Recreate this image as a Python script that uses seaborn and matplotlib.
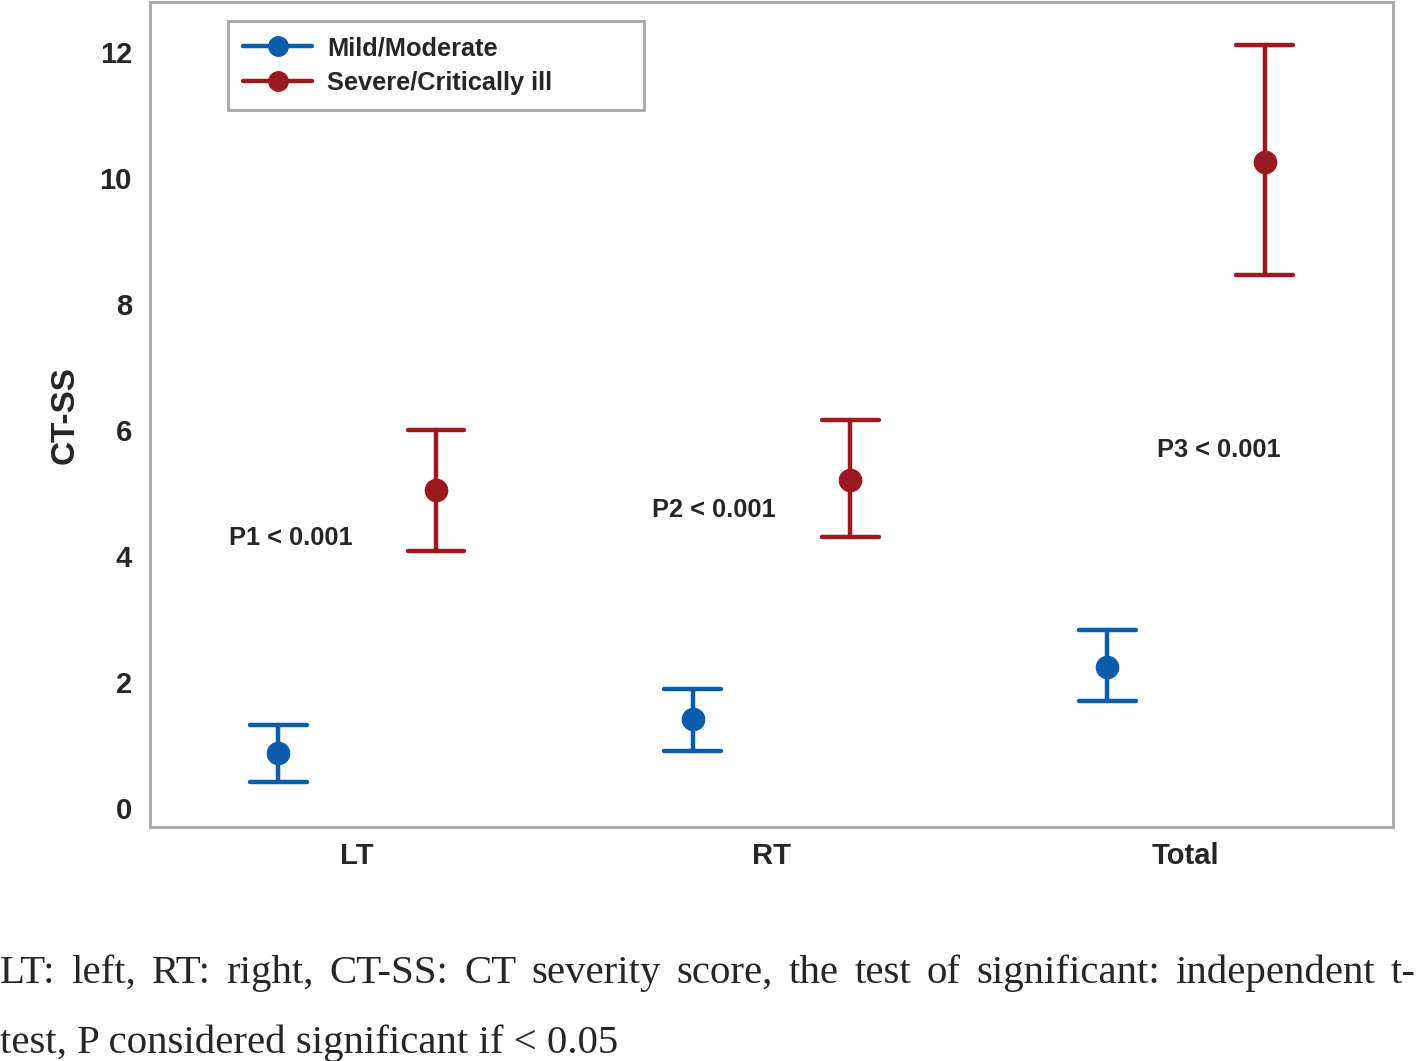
import numpy as np
import pandas as pd
import matplotlib
matplotlib.use("Agg")
import matplotlib.pyplot as plt
from matplotlib.lines import Line2D
import seaborn as sns

regions = ["LT", "RT", "Total"]
groups = ["Mild/Moderate", "Severe/Critically ill"]

mild_mean = [0.87, 1.41, 2.24]
mild_low = [0.41, 0.90, 1.70]
mild_high = [1.32, 1.89, 2.83]

severe_mean = [5.05, 5.21, 10.25]
severe_low = [4.08, 4.30, 8.46]
severe_high = [6.00, 6.16, 12.11]

p_labels = ["P1 < 0.001", "P2 < 0.001", "P3 < 0.001"]
p_x = [-0.16, 0.86, 2.08]
p_y = [4.29, 4.73, 5.68]

caption_1 = "LT: left, RT: right, CT-SS: CT severity score, the test of significant: independent t-"
caption_2 = "test, P considered significant if < 0.05"

blue = "#0b5cab"
red = "#9c1a1f"
frame_grey = "#a6a6a6"

# each point gets its lower end, mean and upper end as three rows;
# median of the three = mean, full percentile interval = the CI bar
rows = []
for grp, lo, mid, hi in [(groups[0], mild_low, mild_mean, mild_high),
                         (groups[1], severe_low, severe_mean, severe_high)]:
    for i, reg in enumerate(regions):
        for v in (lo[i], mid[i], hi[i]):
            rows.append({"Region": reg, "Group": grp, "CT-SS": v})
df = pd.DataFrame(rows)

sns.set_style("white")
plt.rcParams["font.family"] = ["Liberation Sans", "DejaVu Sans"]

fig = plt.figure(figsize=(14.18, 10.61), dpi=100)
ax = fig.add_axes([0.1058, 0.2205, 0.8766, 0.7775])

sns.pointplot(
    data=df, x="Region", y="CT-SS", hue="Group",
    order=regions, hue_order=groups,
    palette=[blue, red],
    estimator="median", errorbar=("pi", 100),
    dodge=0.38, linestyle="none", capsize=0.137,
    markers="o", markersize=15,
    err_kws={"linewidth": 3.2},
    legend=False, ax=ax,
)

for lbl, x, y in zip(p_labels, p_x, p_y):
    ax.text(x, y, lbl, ha="center", va="center", fontsize=18.3, fontweight="bold")

ax.set_xlim(-0.5, 2.5)
ax.set_ylim(-0.30, 12.79)
ax.set_yticks(range(0, 13, 2))
ax.set_xlabel("")
ax.set_ylabel("CT-SS", fontsize=24, fontweight="bold", labelpad=14)
ax.tick_params(axis="both", which="major", direction="out", length=7,
               width=1.5, color=frame_grey, labelsize=21, pad=6)
ax.tick_params(axis="x", length=9, pad=2)
for t in ax.get_xticklabels() + ax.get_yticklabels():
    t.set_fontweight("bold")
for s in ax.spines.values():
    s.set_visible(True)
    s.set_color(frame_grey)
    s.set_linewidth(2)

handles = [
    Line2D([], [], color=blue, lw=3.2, marker="o", markersize=14),
    Line2D([], [], color=red, lw=3.2, marker="o", markersize=14),
]
leg = ax.legend(handles, groups, loc="upper left", mode="expand",
                bbox_to_anchor=(0.0628, 0.977, 0.3347, 0.0),
                borderaxespad=0, fancybox=False,
                edgecolor=frame_grey, framealpha=1, handlelength=2.7,
                borderpad=0.6, labelspacing=0.42, handletextpad=0.6,
                prop={"size": 18.3, "weight": "bold"})
leg.get_frame().set_linewidth(2)

# caption: first line justified across the full width, second left aligned
W, H = fig.get_size_inches() * fig.dpi
cap_kw = dict(fontsize=29.4, family="Liberation Serif", va="baseline", ha="left")
words = caption_1.split(" ")
fig.canvas.draw()
renderer = fig.canvas.get_renderer()
word_texts = [fig.text(0, 0.0735, w, **cap_kw) for w in words]
widths = [t.get_window_extent(renderer).width for t in word_texts]
gap = (1416 - sum(widths)) / (len(words) - 1)
xpos = 0.0
for t, w in zip(word_texts, widths):
    t.set_x(xpos / W)
    xpos += w + gap

fig.text(0.0, 0.0075, caption_2, **cap_kw)

fig.savefig("out.png", dpi=100)
